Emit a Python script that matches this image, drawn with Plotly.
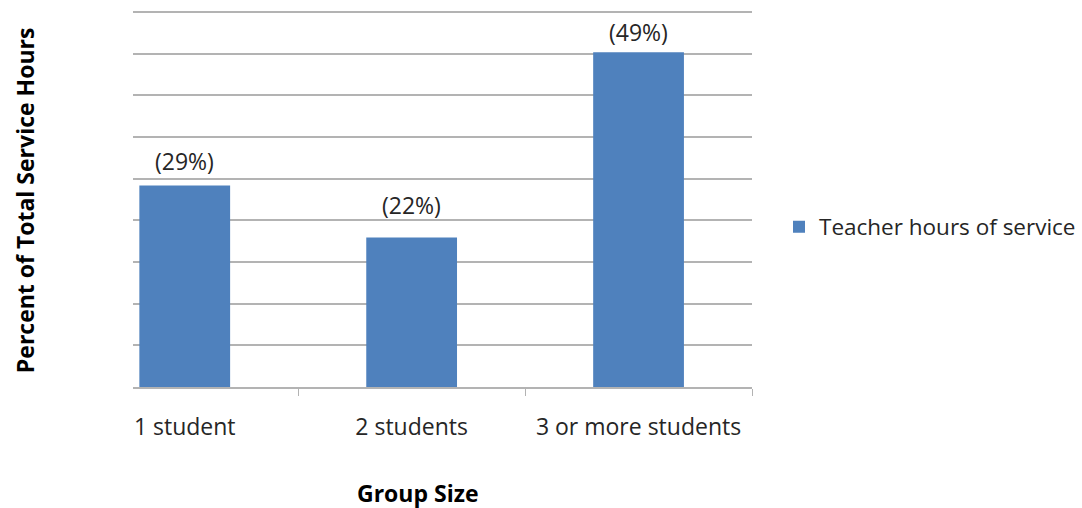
import plotly.graph_objects as go

# Share of total teacher service hours by group size
group_sizes = ["1 student", "2 students", "3 or more students"]
share_pct = [29.5, 21.9, 49]
share_labels = ["(29%)", "(22%)", "(49%)"]
series_name = "Teacher hours of service"

BAR_COLOR = "#4F81BD"
GRID_COLOR = "#B3B3B3"
TEXT_COLOR = "#262626"
FONT = "Open Sans"
FS = 23

# how far (px) each value label sits above its bar
LABEL_LIFT = [7, 14, 2]

# plot area geometry (pixels)
W, H = 1082, 508
LEFT, RIGHT = 133, 330
TOP, BOTTOM = 10, 121.3
PLOT_W = W - LEFT - RIGHT
PLOT_H = H - TOP - BOTTOM
Y_MAX = 55.2

def py(pix):
    """paper y for a pixel row"""
    return (H - BOTTOM - pix) / PLOT_H

def px(pix):
    """paper x for a pixel column"""
    return (pix - LEFT) / PLOT_W

fig = go.Figure(
    go.Bar(
        x=group_sizes,
        y=share_pct,
        name=series_name,
        marker=dict(color=BAR_COLOR, line=dict(width=0)),
        showlegend=True,
    )
)

# value labels floating above each bar
for cat, val, lab, lift in zip(group_sizes, share_pct, share_labels, LABEL_LIFT):
    fig.add_annotation(
        x=cat, y=val, text=lab,
        showarrow=False, xanchor="center", yanchor="bottom", yshift=lift,
        font=dict(family=FONT, size=FS, color=TEXT_COLOR),
    )

fig.add_annotation(
    text="<b>Percent of Total Service Hours</b>",
    xref="paper", yref="paper",
    x=px(25), y=py(200),
    xanchor="center", yanchor="middle",
    textangle=-90,
    showarrow=False,
    font=dict(family=FONT, size=FS, color="black"),
)
fig.add_annotation(
    text="<b>Group Size</b>",
    xref="paper", yref="paper",
    x=px(417), y=py(493),
    xanchor="center", yanchor="middle",
    showarrow=False,
    font=dict(family=FONT, size=FS, color="black"),
)

fig.update_layout(
    width=W,
    height=H,
    margin=dict(l=LEFT, r=RIGHT, t=TOP, b=BOTTOM, autoexpand=False),
    paper_bgcolor="white",
    plot_bgcolor="white",
    bargap=0.6,
    font=dict(family=FONT, size=FS, color=TEXT_COLOR),
    legend=dict(
        xref="container",
        yref="container",
        x=779 / W,
        y=(H - 227) / H,
        xanchor="left",
        yanchor="middle",
        font=dict(family=FONT, size=22.5, color=TEXT_COLOR),
        itemwidth=30,
    ),
    xaxis=dict(
        type="category",
        range=[-0.228, 2.5],
        tickson="boundaries",
        ticks="outside",
        ticklen=7,
        tickcolor=GRID_COLOR,
        showline=True,
        linecolor=GRID_COLOR,
        linewidth=1.5,
        showgrid=False,
        ticklabelstandoff=19,
        tickfont=dict(family=FONT, size=FS, color=TEXT_COLOR),
    ),
    yaxis=dict(
        range=[0, Y_MAX],
        dtick=6.1,
        tick0=0,
        showgrid=True,
        gridcolor=GRID_COLOR,
        gridwidth=1.5,
        showticklabels=False,
        zeroline=False,
        showline=False,
        ticks="",
    ),
)

fig.write_html("out.html")
